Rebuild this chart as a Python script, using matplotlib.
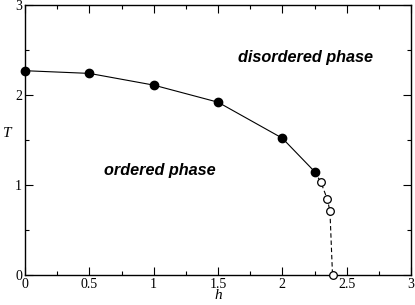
import matplotlib
matplotlib.use("Agg")
import matplotlib.pyplot as plt
from matplotlib.ticker import MultipleLocator

# ordered/disordered boundary, filled = continuous, open = other branch
h_filled = [0.0, 0.5, 1.0, 1.5, 2.0, 2.25]
T_filled = [2.27, 2.24, 2.11, 1.92, 1.52, 1.15]
h_open = [2.30, 2.35, 2.37, 2.39]
T_open = [1.03, 0.84, 0.71, 0.0]

x_ticks = [0, 0.5, 1, 1.5, 2, 2.5, 3]
x_labels = ['0', '0.5', '1', '1.5', '2', '2.5', '3']
y_ticks = [0, 1, 2, 3]
y_labels = ['0', '1', '2', '3']

fig = plt.figure(figsize=(4.15, 3.05), dpi=100)
ax = fig.add_axes([25/415, 30/305, 386/415, 270/305])

ax.plot(h_filled, T_filled, '-', color='black', lw=0.8, marker='o', ms=6,
        mfc='black', mec='black', zorder=3, clip_on=False)
ax.plot([h_filled[-1]] + h_open, [T_filled[-1]] + T_open, '--', color='black',
        lw=0.8, dashes=(4, 2.5), zorder=2)
ax.plot(h_open, T_open, 'o', ms=5.5, mfc='white', mec='black', mew=0.9, zorder=4,
        clip_on=False)

ax.set_xlim(0, 3)
ax.set_ylim(0, 3)
ax.set_xticks(x_ticks)
ax.set_xticklabels(x_labels)
ax.set_yticks(y_ticks)
ax.set_yticklabels(y_labels)
ax.xaxis.set_minor_locator(MultipleLocator(0.25))
ax.yaxis.set_minor_locator(MultipleLocator(0.5))
ax.tick_params(which='both', direction='in', top=True, right=True, width=0.8)
ax.tick_params(which='major', length=6, labelsize=10, pad=2,
               labelfontfamily='Liberation Serif')
ax.tick_params(which='minor', length=3)
for s in ax.spines.values():
    s.set_linewidth(1.0)

ax.set_xlabel('h', family='Liberation Serif', style='italic', fontsize=11, labelpad=-1)
ax.set_ylabel('T', family='Liberation Serif', style='italic', fontsize=11,
              rotation=0, labelpad=6)

ax.text(2.18, 2.42, 'disordered phase', family='Liberation Sans', weight='bold',
        style='italic', fontsize=11.7, ha='center', va='center')
ax.text(1.05, 1.16, 'ordered phase', family='Liberation Sans', weight='bold',
        style='italic', fontsize=11.7, ha='center', va='center')

fig.savefig('out.png', dpi=100)
